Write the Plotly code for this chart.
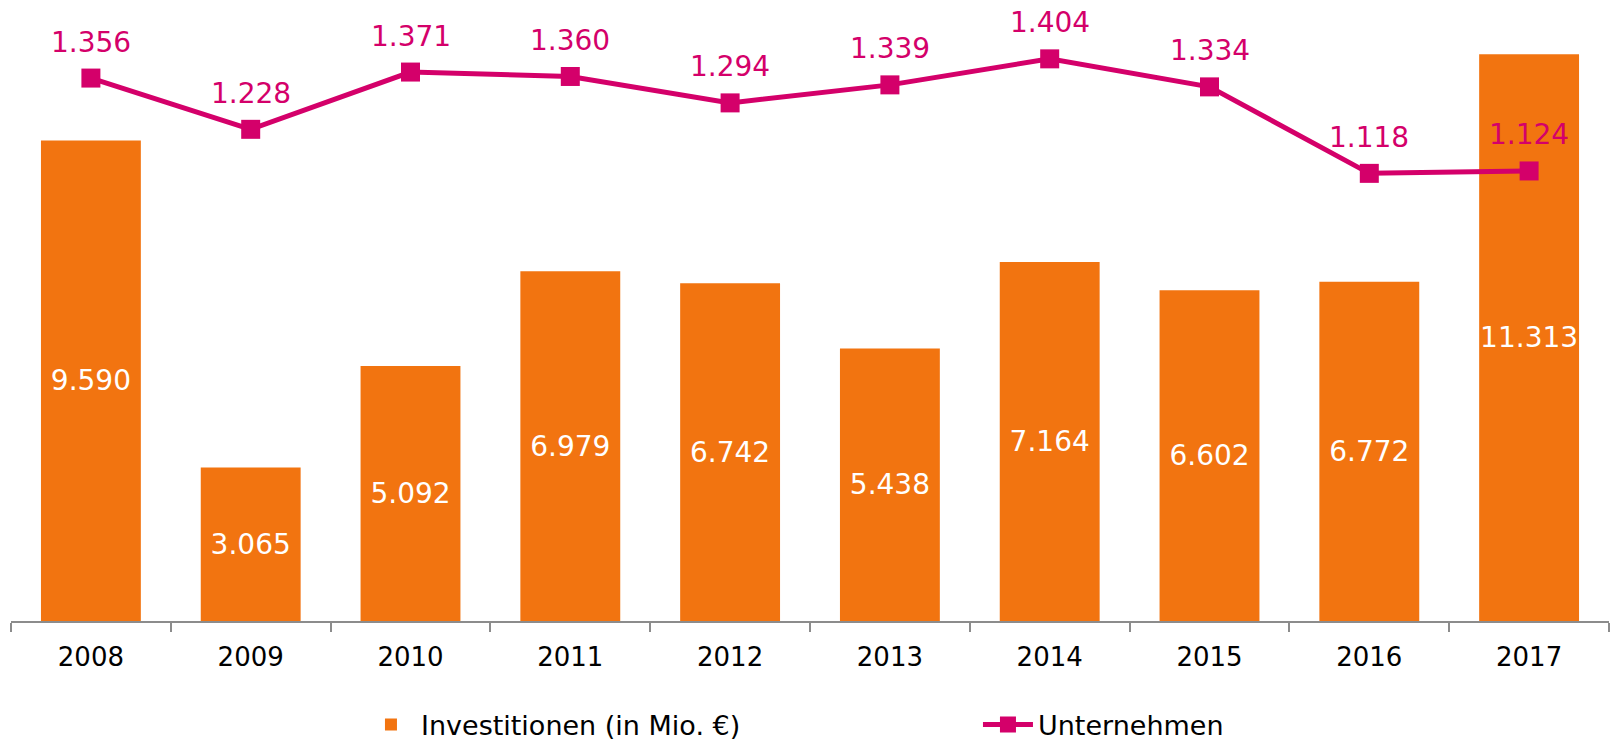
import plotly.graph_objects as go

years = ["2008", "2009", "2010", "2011", "2012", "2013", "2014", "2015", "2016", "2017"]
investitionen = [9.590, 3.065, 5.092, 6.979, 6.742, 5.438, 7.164, 6.602, 6.772, 11.313]
unternehmen = [1.356, 1.228, 1.371, 1.360, 1.294, 1.339, 1.404, 1.334, 1.118, 1.124]

ORANGE = "#F27410"
MAGENTA = "#D4006A"
FONT = "DejaVu Sans"


def de(v):
    return f"{v:.3f}"


fig = go.Figure()
fig.add_trace(go.Bar(
    x=years, y=investitionen, name="Investitionen (in Mio. €)",
    marker=dict(color=ORANGE, line=dict(width=0)),
    text=[de(v) for v in investitionen], textposition="inside",
    insidetextanchor="middle", constraintext="none", textangle=0,
    textfont=dict(color="white", size=28, family=FONT),
    hoverinfo="skip",
))
fig.add_trace(go.Scatter(
    x=years, y=unternehmen, name="Unternehmen", yaxis="y2",
    mode="lines+markers",
    line=dict(color=MAGENTA, width=5),
    marker=dict(symbol="square", size=19, color=MAGENTA),
    hoverinfo="skip",
))
for i, v in enumerate(unternehmen):
    fig.add_annotation(x=i, y=v, xref="x", yref="y2", text=de(v),
                       showarrow=False, yshift=36,
                       font=dict(color=MAGENTA, size=28, family=FONT))

fig.update_layout(
    width=1611, height=741,
    margin=dict(l=11, r=2, t=10, b=120, autoexpand=False),
    plot_bgcolor="white", paper_bgcolor="white",
    font=dict(family=FONT, color="#000000", size=26),
    bargap=0.375,
    showlegend=True,
    legend=dict(orientation="h", x=0.219, xanchor="left", y=-0.17, yanchor="middle",
                font=dict(size=27, family=FONT, color="#000000"),
                itemwidth=50, entrywidth=552, entrywidthmode="pixels",
                traceorder="normal"),
    xaxis=dict(type="category", range=[-0.5, len(years) - 0.5], autorange=False,
               showline=True, linecolor="#8C8C8C", linewidth=2,
               ticks="outside", tickson="boundaries", ticklen=9, tickwidth=2,
               tickcolor="#8C8C8C", showgrid=False, zeroline=False, tickangle=0,
               ticklabelstandoff=12,
               tickfont=dict(size=26, family=FONT, color="#000000")),
    yaxis=dict(range=[0, 12.196], visible=False, showgrid=False, zeroline=False),
    yaxis2=dict(range=[0, 1.526], overlaying="y", side="right", visible=False,
                showgrid=False, zeroline=False),
)

fig.write_html("out.html", config={"displayModeBar": False},
               post_script="document.body.style.margin='0';document.body.style.overflow='hidden';")
